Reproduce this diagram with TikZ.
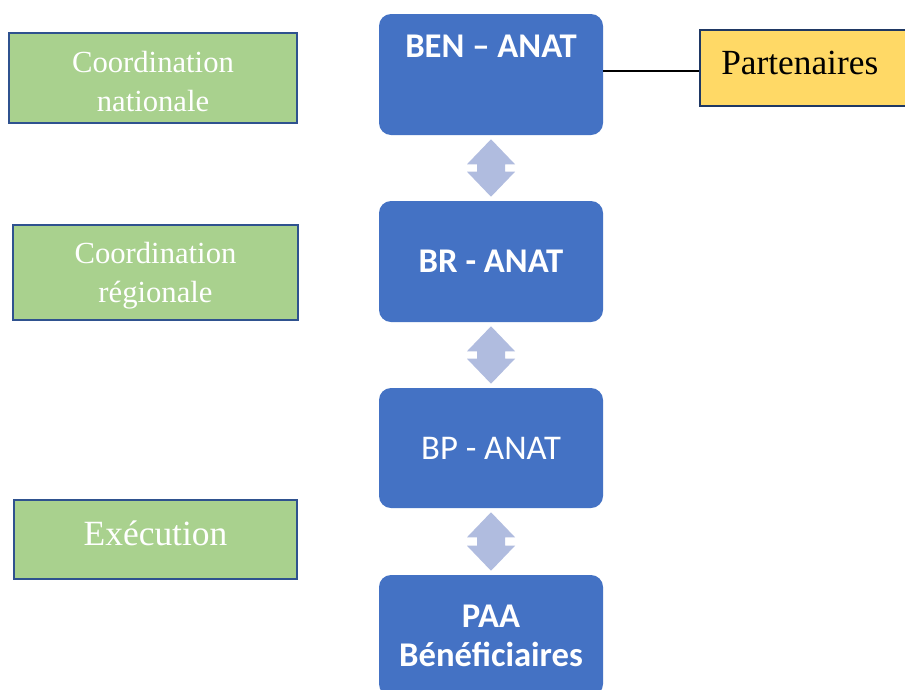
\documentclass[tikz,border=0pt]{standalone}
\usepackage{fontspec}
\setmainfont{Liberation Serif}
\newfontfamily\calfont{Carlito}
\usetikzlibrary{calc}
\definecolor{boxblue}{HTML}{4472C4}
\definecolor{boxgreen}{HTML}{A9D18E}
\definecolor{greenedge}{HTML}{2F528F}
\definecolor{boxyellow}{HTML}{FFD966}
\definecolor{yellowedge}{HTML}{1F3864}
\definecolor{arrowblue}{HTML}{B0BCDF}
\tikzset{
  bluebox/.style={fill=boxblue, draw=none, rounded corners=9pt, minimum width=168pt,
    minimum height=90.75pt, inner sep=0pt, text=white, align=center,
    font=\calfont\fontsize{26}{29.25}\selectfont},
  bluetext/.style={inner sep=0pt, text=white, font=\calfont\bfseries\fontsize{26}{29.25}\selectfont},
  greenbox/.style={fill=boxgreen, draw=greenedge, line width=1.5pt, inner sep=0pt},
  greentext/.style={inner sep=0pt, text=white, align=center},
  yellowbox/.style={fill=boxyellow, draw=yellowedge, line width=1.5pt, inner sep=0pt,
    minimum width=161.25pt, minimum height=57pt},
  plaintext/.style={inner sep=0pt, text=black, font=\fontsize{26.5}{30}\selectfont},
  arrowc/.style={fill=arrowblue},
  linkline/.style={draw=black, line width=1.5pt}
}
\newcommand{\vlink}[2]{%
  \fill[arrowc] let \p1=(#1.south), \p2=(#2.north) in
    (\x1,\y1-3pt) -- (\x1+18pt,\y1-21.75pt) -- (\x1+10.5pt,\y1-21.75pt)
    -- (\x1+10.5pt,\y2+21.75pt) -- (\x1+18pt,\y2+21.75pt) -- (\x1,\y2+3pt)
    -- (\x1-18pt,\y2+21.75pt) -- (\x1-10.5pt,\y2+21.75pt)
    -- (\x1-10.5pt,\y1-21.75pt) -- (\x1-18pt,\y1-21.75pt) -- cycle;}
\begin{document}
\begin{tikzpicture}[x=0.75pt, y=-0.75pt]
\clip (0,0) rectangle (905,689);
\fill[white] (0,0) rectangle (905,689);
% blue column
\node[bluebox] (ben) at (491,74.5) {};
\node[bluetext, anchor=base] (bentxt) at (491,57) {BEN – ANAT};
\node[bluebox, font=\calfont\bfseries\fontsize{26}{29.25}\selectfont] (br) at (491,261.5) {BR - ANAT};
\node[bluebox, minimum height=90pt] (bp) at (491,448) {BP - ANAT};
\node[bluebox, font=\calfont\bfseries\fontsize{26}{29.25}\selectfont] (paa) at (491,635.5) {PAA\\Bénéficiaires};
% arrows
\vlink{ben}{br}
\vlink{br}{bp}
\vlink{bp}{paa}
% partners
\node[yellowbox] (part) at (807.5,68) {};
\node[plaintext, anchor=base west] (parttxt) at (721,74) {Partenaires};
\draw[linkline] ($(ben.east)+(0,-3.5)$) -- ($(ben.east -| part.west)+(0,-3.5)$);
% green labels
\node[greenbox, minimum width=216pt, minimum height=67.5pt] (cn) at (153,78) {};
\node[greentext, font=\fontsize{23}{29.25}\selectfont] (cntxt) at (153,82) {Coordination\\nationale};
\node[greenbox, minimum width=213.75pt, minimum height=71.25pt] (cr) at (155.5,272.5) {};
\node[greentext, font=\fontsize{23}{29.25}\selectfont] (crtxt) at (155.5,275.5) {Coordination\\régionale};
\node[greenbox, minimum width=212.25pt, minimum height=59.25pt] (ex) at (155.5,539.5) {};
\node[greentext, font=\fontsize{26.6}{30}\selectfont, anchor=base] (extxt) at (155.5,545) {Exécution};
\end{tikzpicture}
\end{document}
